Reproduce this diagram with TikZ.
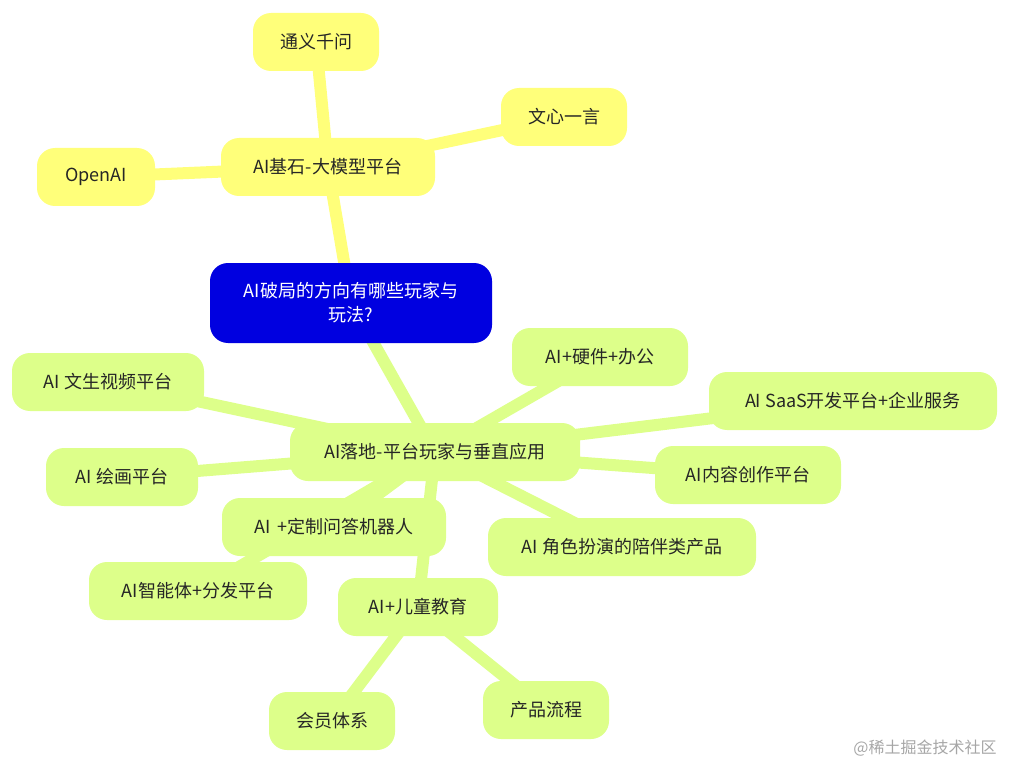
\documentclass[tikz,border=0pt]{standalone}
\usepackage{fontspec}
\setmainfont{Noto Sans CJK SC}
\usetikzlibrary{backgrounds}
\definecolor{yel}{HTML}{FFFF7A}
\definecolor{grn}{HTML}{DDFF8A}
\definecolor{rootc}{HTML}{0000E0}
\begin{document}
\begin{tikzpicture}[x=1pt,y=-1pt,
  box/.style={rounded corners=18pt,inner sep=0pt,font=\fontsize{18}{22}\selectfont,text=black!85},
  yb/.style={box,fill=yel},
  gb/.style={box,fill=grn},
  yl/.style={yel,line width=12pt},
  gl/.style={grn,line width=12pt}]
\useasboundingbox (0,0) rectangle (1010,765);
\node[box,fill=rootc,text=white,minimum width=282pt,minimum height=80pt,align=center,font=\fontsize{18}{24}\selectfont] (root) at (351,303) {AI破局的方向有哪些玩家与\\玩法?};
\node[yb,minimum width=214pt,minimum height=58pt] (y) at (328,167) {AI基石-大模型平台};
\node[yb,minimum width=126pt,minimum height=58pt] (y1) at (316,42) {通义千问};
\node[yb,minimum width=126pt,minimum height=58pt] (y2) at (564,117) {文心一言};
\node[yb,minimum width=118pt,minimum height=58pt] (y3) at (96,177) {OpenAI};
\node[gb,minimum width=290pt,minimum height=58pt] (g) at (435,452) {AI落地-平台玩家与垂直应用};
\node[gb,minimum width=176pt,minimum height=58pt] (g1) at (600,357) {AI+硬件+办公};
\node[gb,minimum width=288pt,minimum height=58pt] (g2) at (853,401) {AI SaaS开发平台+企业服务};
\node[gb,minimum width=186pt,minimum height=58pt] (g3) at (748,475) {AI内容创作平台};
\node[gb,minimum width=268pt,minimum height=58pt] (g4) at (622,547) {AI 角色扮演的陪伴类产品};
\node[gb,minimum width=160pt,minimum height=58pt] (g5) at (418,607) {AI+儿童教育};
\node[gb,minimum width=126pt,minimum height=58pt] (g51) at (332,721) {会员体系};
\node[gb,minimum width=126pt,minimum height=58pt] (g52) at (546,710) {产品流程};
\node[gb,minimum width=192pt,minimum height=58pt] (g6) at (108,382) {AI 文生视频平台};
\node[gb,minimum width=152pt,minimum height=58pt] (g7) at (122,477) {AI 绘画平台};
\node[gb,minimum width=224pt,minimum height=58pt] (g8) at (334,527) {AI \,+定制问答机器人};
\node[gb,minimum width=218pt,minimum height=58pt] (g9) at (198,591) {AI智能体+分发平台};
\node[text=gray!70,font=\fontsize{16}{20}\selectfont] (wm) at (925,748) {@稀土掘金技术社区};
\begin{pgfonlayer}{background}
\draw[yl] (root.center) -- (y.center);
\foreach \n in {y1,y2,y3} \draw[yl] (y.center) -- (\n.center);
\draw[gl] (root.center) -- (g.center);
\foreach \n in {g1,g2,g3,g4,g5,g6,g7,g8,g9} \draw[gl] (g.center) -- (\n.center);
\foreach \n in {g51,g52} \draw[gl] (g5.center) -- (\n.center);
\end{pgfonlayer}
\end{tikzpicture}
\end{document}
